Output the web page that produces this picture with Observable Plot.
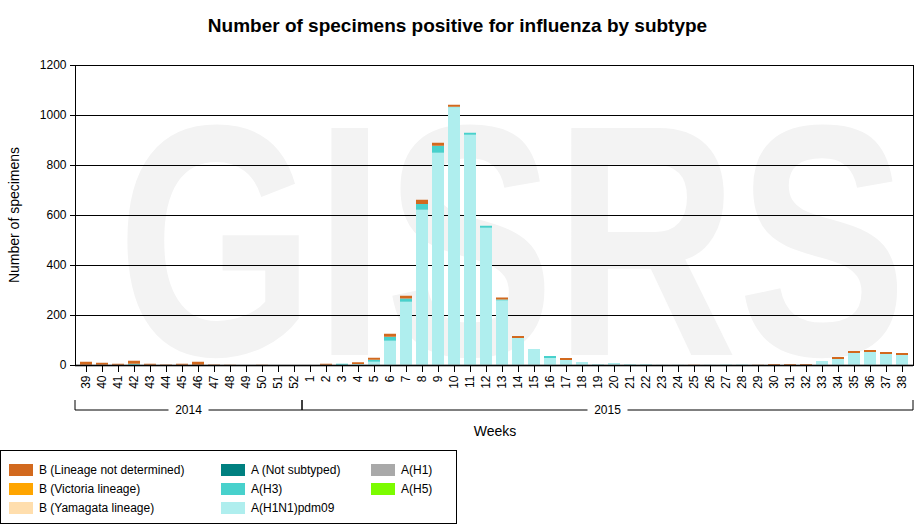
<!DOCTYPE html>
<html><head><meta charset="utf-8">
<script src="https://cdn.jsdelivr.net/npm/d3@7"></script>
<script src="https://cdn.jsdelivr.net/npm/@observablehq/plot@0.6"></script>
<style>
body{margin:0;font-family:Arial,"Liberation Sans",sans-serif;background:#fff}
#wrap{position:relative;width:915px;height:529px}
#title{position:absolute;top:15px;left:0;width:915px;text-align:center;font-weight:bold;font-size:19px}
#legend{position:absolute;left:0;top:450px;width:455px;height:72px;border:1px solid #000;font-size:12px}
.li{position:absolute;display:flex;align-items:center}
.sw{width:24px;height:12px;margin-right:6px}
</style></head><body>
<div id="wrap"><div id="chart"></div><div id="title">Number of specimens positive for influenza by subtype</div><div id="legend"></div></div>
<script>
const weeks = ["39","40","41","42","43","44","45","46","47","48","49","50","51","52","1","2","3","4","5","6","7","8","9","10","11","12","13","14","15","16","17","18","19","20","21","22","23","24","25","26","27","28","29","30","31","32","33","34","35","36","37","38"];
const h1pdm09 = [0,0,0,0,0,0,0,0,0,0,0,0,0,0,0,0,0,4,13,97,253,621,849,1031,921,549,258,108,64,28,20,12,4,8,4,4,1,1,0,1,0,0,0,0,0,0,16,24,48,52,44,40];
const h3      = [0,0,0,5,0,0,0,0,0,0,0,0,0,0,0,0,5,0,8,16,13,23,28,2,8,8,4,0,0,8,0,0,0,0,0,0,0,0,0,0,1,1,0,0,0,0,0,0,0,0,0,0];
const notSub  = [0,0,0,0,0,0,0,0,0,0,0,0,0,0,0,0,0,0,0,0,0,0,0,0,0,0,0,0,0,0,0,0,0,0,0,0,0,0,0,0,0,0,0,0,0,0,0,0,0,0,0,0];
const bNd     = [13,9,5,12,5,2,5,13,2,1,0,1,0,0,0,5,0,7,8,12,11,17,12,8,0,0,8,8,0,0,8,0,0,0,0,0,0,0,1,0,0,0,1,4,4,4,0,8,8,8,8,8];
const years = [{label:"2014",from:"39",to:"52"},{label:"2015",from:"1",to:"38"}];
const series = [
  {name:"A(H1N1)pdm09",color:"#AFEEEE",vals:h1pdm09},
  {name:"A(H3)",color:"#48D1CC",vals:h3},
  {name:"A (Not subtyped)",color:"#008080",vals:notSub},
  {name:"B (Lineage not determined)",color:"#D2691E",vals:bNd}
];
const legendItems = [
  ["B (Lineage not determined)","#D2691E"],["B (Victoria lineage)","#FFA500"],["B (Yamagata lineage)","#FFDEAD"],
  ["A (Not subtyped)","#008080"],["A(H3)","#48D1CC"],["A(H1N1)pdm09","#AFEEEE"],
  ["A(H1)","#A9A9A9"],["A(H5)","#7CFC00"]];
const data = [];
series.forEach((s,si)=>weeks.forEach((w,i)=>data.push({week:w,type:s.name,order:si,value:s.vals[i]})));
const font = "Arial, 'Liberation Sans', sans-serif";

const plot = Plot.plot({
  width:915,height:445,marginTop:65,marginBottom:80,marginLeft:75,marginRight:2,
  style:{fontFamily:font,fontSize:"12px",color:"#000"},
  x:{domain:weeks,padding:0.26,label:null},
  y:{domain:[0,1200],label:null},
  color:{domain:series.map(s=>s.name),range:series.map(s=>s.color)},
  marks:[
    () => d3.create("svg:text").attr("x",512).attr("y",355).attr("text-anchor","middle")
        .attr("font-family",font).attr("font-weight","bold")
        .attr("font-size",330).attr("fill","#f3f3f3").attr("textLength",790).attr("lengthAdjust","spacingAndGlyphs").text("GISRS").node(),
    Plot.gridY({ticks:d3.range(0,1201,200),stroke:"#000",strokeOpacity:1}),
    Plot.barY(data,Plot.stackY({x:"week",y:"value",fill:"type",order:"order"})),
    Plot.ruleY([0],{stroke:"#666",strokeWidth:2}),
    Plot.frame({stroke:"#000"}),
    Plot.axisX({tickRotate:-90,tickSize:7,tickPadding:3,fontSize:12}),
    Plot.axisY({ticks:d3.range(0,1201,200),tickFormat:d=>String(d),tickSize:5,fontSize:12,label:null})
  ]
});
document.getElementById("chart").appendChild(plot);
const svg = d3.select(plot);
svg.append("text").attr("transform","translate(19,215) rotate(-90)").attr("text-anchor","middle")
  .attr("font-size",14).attr("font-family",font).text("Number of specimens");
const xs = plot.scale("x");
const bw = xs.bandwidth;
const gy = 410;
years.forEach((yr,k)=>{
  const x0 = k===0 ? 75 : xs.apply(yr.from)-2;
  const x1 = k===0 ? xs.apply(yr.to)+bw+2 : 913;
  const mid = (x0+x1)/2;
  svg.append("path").attr("stroke","#000").attr("fill","none")
    .attr("d",`M${x0},${gy-10}V${gy}H${mid-20}M${mid+20},${gy}H${x1}V${gy-10}`);
  svg.append("text").attr("x",mid).attr("y",gy+4).attr("text-anchor","middle").attr("font-size",12)
    .attr("font-family",font).text(yr.label);
});
svg.append("text").attr("x",495).attr("y",436).attr("text-anchor","middle").attr("font-size",14)
  .attr("font-family",font).text("Weeks");
const leg = document.getElementById("legend");
const cols=[8,220,370], rows=[12,31,50];
legendItems.forEach(([n,c],i)=>{
  const d=document.createElement("div");d.className="li";
  d.style.left=cols[Math.floor(i/3)]+"px";d.style.top=rows[i%3]+"px";
  d.innerHTML=`<span class="sw" style="background:${c}"></span>${n}`;leg.appendChild(d);
});
</script></body></html>
